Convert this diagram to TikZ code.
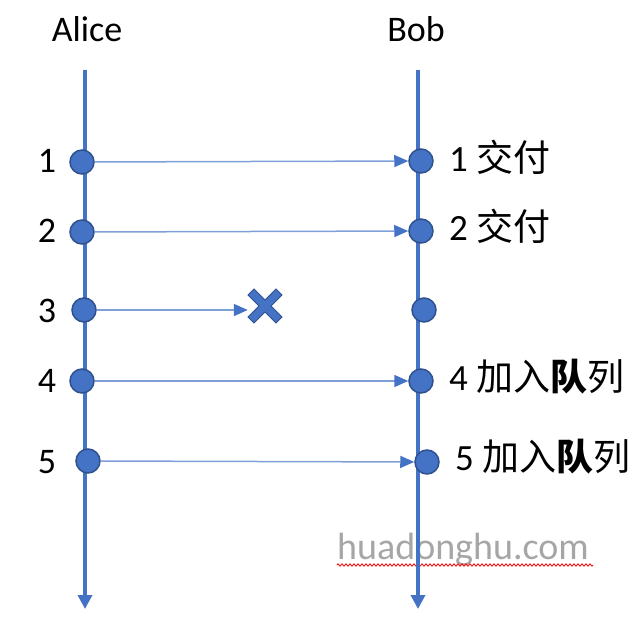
\documentclass[tikz,border=0pt]{standalone}
\usepackage{fontspec}
\setmainfont{Carlito}
\newfontfamily\cjk{Noto Sans CJK SC}
\usetikzlibrary{arrows.meta,decorations.pathmorphing}
\definecolor{lblue}{HTML}{4472C4}
\definecolor{dblue}{HTML}{2F528F}
\definecolor{mblue}{HTML}{7F9FD8}
\definecolor{wgray}{HTML}{A6A6A6}
\begin{document}
\begin{tikzpicture}[x=1pt,y=-1pt,
  dot/.style={circle,fill=lblue,draw=dblue,line width=1.5pt,minimum size=24pt,inner sep=0pt},
  life/.style={draw=lblue,line width=4pt,-{Triangle[length=14pt,width=14pt]}},
  msg/.style={draw=mblue,line width=1.5pt,-{Triangle[length=14pt,width=12pt,fill=lblue,color=lblue]}},
  pname/.style={font=\fontsize{36}{40}\selectfont,anchor=base},
  num/.style={font=\fontsize{36}{40}\selectfont},
  lbl/.style={font=\fontsize{37}{40}\selectfont,anchor=west,inner sep=0pt},
  wmark/.style={font=\fontsize{38}{42}\selectfont,text=wgray,anchor=base west,inner sep=0pt}]
\useasboundingbox (0,0) rectangle (640,636);
% watermark
\node[wmark] (wm) at (337,559) {huadonghu.com};
\coordinate (w1) at (337,565);
\coordinate (w2) at (593,565);
\draw[red,line width=0.8pt,decorate,decoration={zigzag,segment length=4pt,amplitude=1.2pt}] (w1) -- (w2);
% names
\node[pname] (alice) at (87,42) {Alice};
\node[pname] (bob) at (416,42) {Bob};
% lifelines
\coordinate (at) at (85,70);
\coordinate (ab) at (85,609);
\coordinate (bt) at (418,70);
\coordinate (bb) at (418,609);
\draw[life] (at) -- (ab);
\draw[life] (bt) -- (bb);
% dots
\node[dot] (a1) at (82,162) {};
\node[dot] (a2) at (82,232) {};
\node[dot] (a3) at (84,310) {};
\node[dot] (a4) at (82,381) {};
\node[dot] (a5) at (88,461) {};
\node[dot] (b1) at (421,161) {};
\node[dot] (b2) at (421,231) {};
\node[dot] (b3) at (424,310) {};
\node[dot] (b4) at (421,381) {};
\node[dot] (b5) at (427,462) {};
% cross
\node[inner sep=0pt,minimum size=34pt] (x) at (265,306) {};
\fill[lblue,draw=dblue,line width=1pt,shift={(265,306)}]
  (-11,-17) -- (0,-6) -- (11,-17) -- (17,-11) -- (6,0) -- (17,11) -- (11,17)
  -- (0,6) -- (-11,17) -- (-17,11) -- (-6,0) -- (-17,-11) -- cycle;
% messages
\draw[msg] (a1) -- (b1);
\draw[msg] (a2) -- (b2);
\draw[msg] (a3) -- (a3 -| x.west);
\draw[msg] (a4) -- (b4);
\draw[msg] (a5) -- (b5);
% numbers
\node[num] (n1) at (47,161) {1};
\node[num] (n2) at (47,231) {2};
\node[num] (n3) at (47,311) {3};
\node[num] (n4) at (47,381) {4};
\node[num] (n5) at (47,462) {5};
% labels
\node[lbl] (l1) at (449,157) {1 {\cjk 交付}};
\node[lbl] (l2) at (449,226) {2 {\cjk 交付}};
\node[lbl] (l4) at (449,377) {4 {\cjk 加入{\bfseries 队}列}};
\node[lbl] (l5) at (455,457) {5 {\cjk 加入{\bfseries 队}列}};
\end{tikzpicture}
\end{document}
